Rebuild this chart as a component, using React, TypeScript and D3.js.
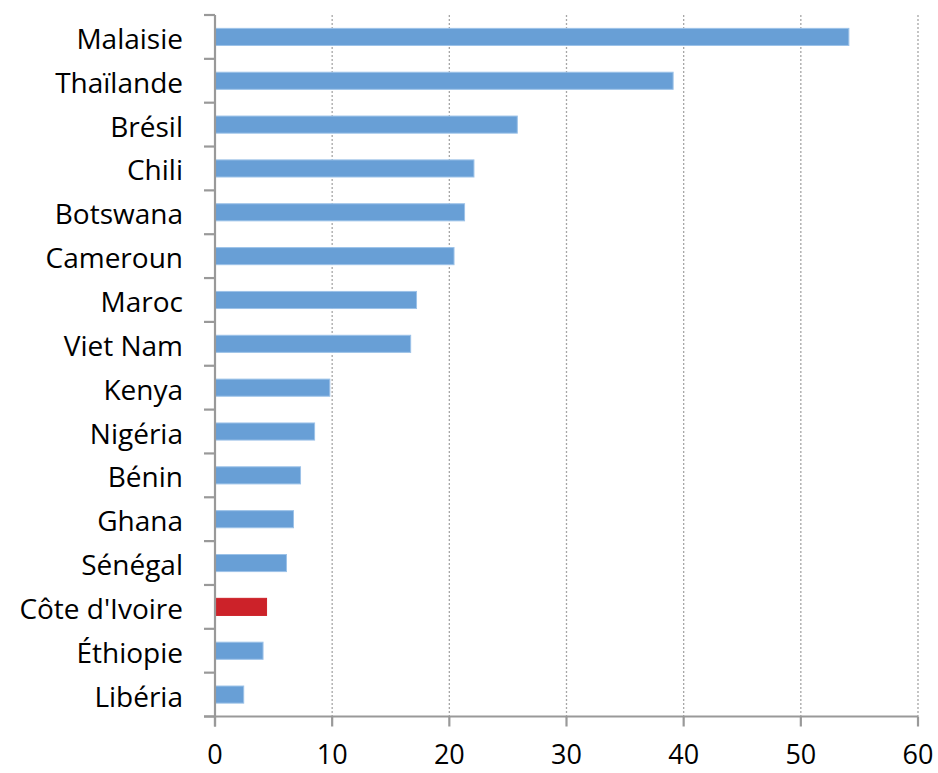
import React, { useRef, useEffect } from 'react';
import * as d3 from 'd3';

const countries = [
  'Malaisie', 'Thaïlande', 'Brésil', 'Chili', 'Botswana', 'Cameroun', 'Maroc', 'Viet Nam',
  'Kenya', 'Nigéria', 'Bénin', 'Ghana', 'Sénégal', "Côte d'Ivoire", 'Éthiopie', 'Libéria',
];
const values = [54.1, 39.1, 25.8, 22.1, 21.3, 20.4, 17.2, 16.7, 9.8, 8.5, 7.3, 6.7, 6.1, 4.4, 4.1, 2.45];
const xTicks = [0, 10, 20, 30, 40, 50, 60];
const highlight = "Côte d'Ivoire";

function Chart() {
  const chartRef = useRef(null);

  useEffect(() => {
    const svg = d3.select(chartRef.current);
    svg.selectAll('*').remove();

    const font = "'Open Sans', 'Noto Sans', sans-serif";
    const left = 215;
    const right = 918;
    const top = 15;
    const bottom = 716.5;

    const x = d3.scaleLinear().domain([0, 60]).range([left, right]);
    const y = d3.scaleBand().domain(countries).range([top, bottom]).paddingInner(0.61).paddingOuter(0.305);
    const yEdges = d3.scaleLinear().domain([0, countries.length]).range([top, bottom]);

    // dotted gridlines
    svg
      .append('g')
      .selectAll('line')
      .data(xTicks.slice(1))
      .enter()
      .append('line')
      .attr('x1', (d) => x(d))
      .attr('x2', (d) => x(d))
      .attr('y1', top)
      .attr('y2', bottom)
      .attr('stroke', '#a6a6a6')
      .attr('stroke-width', 1.3)
      .attr('stroke-dasharray', '2,2');

    // bars
    svg
      .append('g')
      .selectAll('rect')
      .data(countries)
      .enter()
      .append('rect')
      .attr('x', x(0))
      .attr('y', (d) => y(d))
      .attr('width', (d, i) => x(values[i]) - x(0))
      .attr('height', y.bandwidth())
      .attr('fill', (d) => (d === highlight ? '#cc2229' : '#689fd6'))
      .attr('stroke', (d) => (d === highlight ? '#cc2229' : '#9cc2e8'))
      .attr('stroke-width', 1);

    // left axis line and ticks between categories
    const axis = svg.append('g').attr('stroke', '#999999').attr('stroke-width', 2.2);
    axis.append('line').attr('x1', left).attr('x2', left).attr('y1', top).attr('y2', bottom + 10);
    axis
      .selectAll('line.yt')
      .data(d3.range(countries.length + 1))
      .enter()
      .append('line')
      .attr('class', 'yt')
      .attr('x1', left - 11)
      .attr('x2', left)
      .attr('y1', (d) => yEdges(d))
      .attr('y2', (d) => yEdges(d));

    // bottom axis line and ticks
    axis.append('line').attr('x1', left - 11).attr('x2', right).attr('y1', bottom).attr('y2', bottom);
    axis
      .selectAll('line.xt')
      .data(xTicks)
      .enter()
      .append('line')
      .attr('class', 'xt')
      .attr('x1', (d) => x(d))
      .attr('x2', (d) => x(d))
      .attr('y1', bottom)
      .attr('y2', bottom + 10);

    // category labels
    svg
      .append('g')
      .selectAll('text')
      .data(countries)
      .enter()
      .append('text')
      .attr('x', 183)
      .attr('y', (d) => y(d) + y.bandwidth() / 2 + 12)
      .attr('text-anchor', 'end')
      .attr('font-family', font)
      .attr('font-size', 28)
      .attr('fill', '#000')
      .text((d) => d);

    // x tick labels
    svg
      .append('g')
      .selectAll('text')
      .data(xTicks)
      .enter()
      .append('text')
      .attr('x', (d) => x(d))
      .attr('y', 764)
      .attr('text-anchor', 'middle')
      .attr('font-family', font)
      .attr('font-size', 27)
      .attr('fill', '#000')
      .text((d) => d);
  }, []);

  return (
    <svg
      ref={chartRef}
      width={938}
      height={773}
      style={{ position: 'absolute', left: 0, top: 0, background: '#fff' }}
    ></svg>
  );
}

export default function App() {
  return <Chart />;
}
